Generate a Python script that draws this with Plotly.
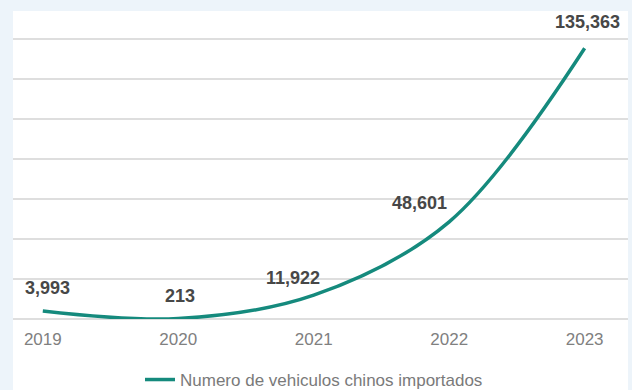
import plotly.graph_objects as go

years = ["2019", "2020", "2021", "2022", "2023"]
vehicles = [3993, 213, 11922, 48601, 135363]
value_labels = ["3,993", "213", "11,922", "48,601", "135,363"]
series_name = "Numero de vehiculos chinos importados"

# label offsets (pixels) relative to each point
label_dx = [5, 2, -21, -30, 3]
label_dy = [23, 23, 17, 19, 26]

teal = "#158a7d"
FONT = "Liberation Sans, Arial, sans-serif"

fig = go.Figure()
fig.add_trace(go.Scatter(
    x=list(range(len(years))), y=vehicles, mode="lines", name=series_name,
    line=dict(color=teal, width=3.5, shape="spline", smoothing=1.0),
    hoverinfo="skip",
))

for i, (v, t) in enumerate(zip(vehicles, value_labels)):
    fig.add_annotation(
        x=i, y=v, text=f"<b>{t}</b>", showarrow=False,
        xshift=label_dx[i], yshift=label_dy[i],
        font=dict(family=FONT, size=18, color="#474747"),
    )

# white card behind the chart
fig.add_shape(type="rect", xref="paper", yref="paper",
              x0=0, x1=1, y0=-0.3, y1=1,
              fillcolor="white", line=dict(width=0), layer="below")

fig.update_layout(
    width=632, height=390,
    margin=dict(l=13, r=4, t=11, b=71, autoexpand=False),
    paper_bgcolor="#edf4fa",
    plot_bgcolor="white",
    showlegend=True,
    legend=dict(orientation="h", x=0.2065, xanchor="left", y=-0.198, yanchor="middle",
                font=dict(family=FONT, size=17, color="#7a7a7a"),
                bgcolor="rgba(0,0,0,0)", borderwidth=0),
    xaxis=dict(
        range=[-0.22, 4.32], tickmode="array",
        tickvals=list(range(len(years))), ticktext=years,
        showgrid=False, zeroline=False, showline=False, ticks="",
        tickfont=dict(family=FONT, size=17, color="#808080"),
        ticklabelstandoff=8,
        fixedrange=True,
    ),
    yaxis=dict(
        range=[0, 154000], dtick=20000, tick0=0,
        showgrid=True, gridcolor="#dedede", gridwidth=2,
        zeroline=True, zerolinecolor="#dedede", zerolinewidth=2,
        showticklabels=False, ticks="", showline=False, fixedrange=True,
    ),
)

fig.write_html(
    "out.html",
    config={"displayModeBar": False},
    post_script="document.body.style.margin='0';document.body.style.background='#edf4fa';",
)
